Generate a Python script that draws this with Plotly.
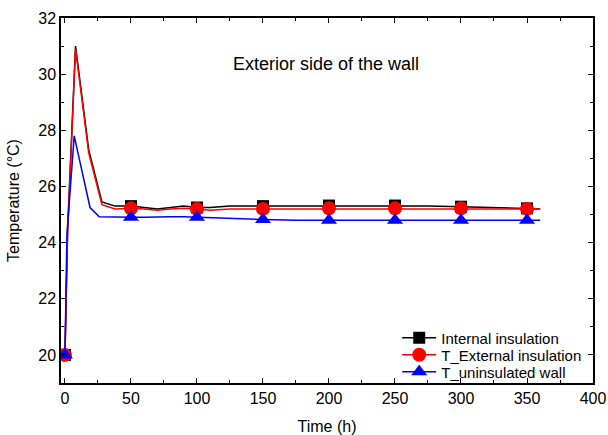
import plotly.graph_objects as go

# Dense curve data
time_ins = [0, 2, 8, 18, 28, 38, 50, 60, 70, 80, 90, 100, 110, 125, 150, 175, 200, 225, 250, 275, 300, 325, 350, 360]
t_internal = [20.0, 24.5, 31.0, 27.3, 25.45, 25.3, 25.3, 25.25, 25.2, 25.25, 25.3, 25.25, 25.25, 25.3, 25.3, 25.3,
              25.32, 25.32, 25.32, 25.3, 25.28, 25.25, 25.22, 25.2]
t_external = [20.0, 24.3, 30.9, 27.2, 25.35, 25.2, 25.22, 25.2, 25.15, 25.2, 25.22, 25.2, 25.15, 25.2, 25.2, 25.2,
              25.22, 25.22, 25.22, 25.22, 25.22, 25.2, 25.2, 25.2]
time_unins = [0, 1.5, 7, 19, 26, 38, 50, 60, 70, 80, 90, 100, 110, 125, 150, 175, 200, 225, 250, 275, 300, 325, 350, 360]
t_uninsulated = [20.0, 24.3, 27.8, 25.25, 24.92, 24.9, 24.9, 24.9, 24.92, 24.92, 24.92, 24.9, 24.88, 24.85, 24.82,
                 24.8, 24.8, 24.8, 24.8, 24.8, 24.8, 24.8, 24.8, 24.8]

marker_times = [0, 50, 100, 150, 200, 250, 300, 350]

series = [
    ("Internal insulation", time_ins, t_internal, "black", "square", 12),
    ("T_External insulation", time_ins, t_external, "red", "circle", 14),
    ("T_uninsulated wall", time_unins, t_uninsulated, "blue", "triangle-up", 14),
]
legend_ids = ["legend", "legend2", "legend3"]

fig = go.Figure()
for (name, xs, ys, color, symbol, size), lid in zip(series, legend_ids):
    fig.add_trace(go.Scatter(x=xs, y=ys, mode="lines", line=dict(color=color, width=1.5),
                             showlegend=False, hoverinfo="skip"))
    mx = [x for x in xs if x in marker_times]
    my = [y for x, y in zip(xs, ys) if x in marker_times]
    fig.add_trace(go.Scatter(x=mx, y=my, mode="markers",
                             marker=dict(color=color, symbol=symbol, size=size, line=dict(width=0)),
                             showlegend=False))
    fig.add_trace(go.Scatter(x=[None], y=[None], mode="lines+markers", name=name, legend=lid,
                             line=dict(color=color, width=1.5),
                             marker=dict(color=color, symbol=symbol, size=size, line=dict(width=0))))

FONT = "Liberation Sans, Arial"
axis_common = dict(showline=True, linecolor="black", linewidth=1.5, mirror="ticks",
                   ticks="inside", ticklen=5, tickwidth=1.2, tickcolor="black",
                   showgrid=False, zeroline=False, automargin=False,
                   tickfont=dict(family=FONT, size=16, color="black"))

fig.update_xaxes(range=[-3, 400], tickvals=[0, 50, 100, 150, 200, 250, 300, 350, 400],
                 minor=dict(ticks="inside", dtick=25, tick0=0, ticklen=3, tickcolor="black"),
                 title=dict(text="Time (h)", font=dict(family=FONT, size=16, color="black")),
                 **axis_common)
fig.update_yaxes(range=[19, 32], tickvals=[20, 22, 24, 26, 28, 30, 32],
                 minor=dict(ticks="inside", dtick=1, tick0=0, ticklen=3, tickcolor="black"),
                 title=dict(text="Temperature (°C)", font=dict(family=FONT, size=16, color="black")),
                 **axis_common)

fig.add_annotation(x=198, y=30.36, text="Exterior side of the wall", showarrow=False,
                   font=dict(family=FONT, size=18, color="black"))

leg_common = dict(x=0.632, xanchor="left", yanchor="middle", bgcolor="rgba(0,0,0,0)",
                  font=dict(family=FONT, size=15, color="black"), itemwidth=34)
fig.update_layout(
    width=608, height=435,
    margin=dict(l=61, r=15, t=18, b=52),
    plot_bgcolor="white", paper_bgcolor="white",
    legend=dict(y=(383 - 338) / 365, **leg_common),
    legend2=dict(y=(383 - 355) / 365, **leg_common),
    legend3=dict(y=(383 - 372) / 365, **leg_common),
)

fig.write_html("out.html")
